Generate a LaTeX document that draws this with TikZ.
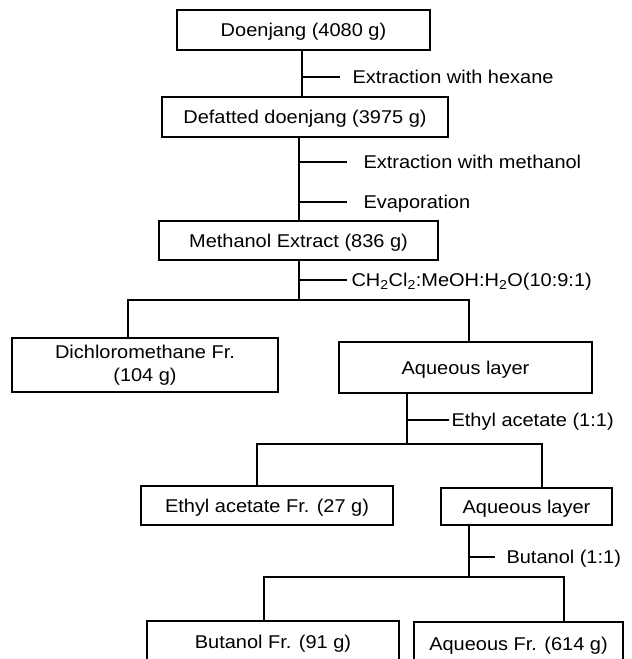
\documentclass[tikz,border=0pt]{standalone}
\usepackage{fontspec}
\setmainfont{Liberation Sans}[FakeStretch=1.08]
\begin{document}
\begin{tikzpicture}[x=1pt,y=-1pt,line width=1.1pt,
  box/.style={draw,inner sep=0pt,align=center,text height=13pt,text depth=0pt},
  lab/.style={anchor=west,inner sep=0pt,text height=13pt,text depth=0pt},
  every node/.style={font=\fontsize{18.5}{23}\selectfont}]
\clip (0,0) rectangle (632,659);
\fill[white] (0,0) rectangle (632,659);
% boxes
\node[box,minimum width=253,minimum height=40] (d1) at (303.5,30) {Doenjang (4080 g)};
\node[box,minimum width=286,minimum height=40] (d2) at (305,117) {Defatted doenjang (3975 g)};
\node[box,minimum width=279,minimum height=39] (d3) at (298.5,240.5) {Methanol Extract (836 g)};
\node[box,minimum width=266,minimum height=54,text height=,text depth=] (d4) at (145,365) {Dichloromethane Fr.\\(104 g)};
\node[box,minimum width=253,minimum height=51] (d5) at (465.5,367.5) {Aqueous layer};
\node[box,minimum width=252,minimum height=39] (d6) at (267,505.5) {Ethyl acetate Fr. (27 g)};
\node[box,minimum width=171,minimum height=37] (d7) at (526.5,506.5) {Aqueous layer};
\node[box,minimum width=252,minimum height=41] (d8) at (273,641.5) {Butanol Fr. (91 g)};
\node[box,minimum width=209,minimum height=44] (d9) at (518.5,644) {Aqueous Fr. (614 g)};
% labels
\node[lab,inner xsep=12pt] (l1) at (340,77) {Extraction with hexane};
\node[lab,inner xsep=16pt] (l2) at (347,162) {Extraction with methanol};
\node[lab,inner xsep=16pt] (l3) at (347,202) {Evaporation};
\node[lab,inner xsep=4pt] (l4) at (347,280) {CH\textsubscript{2}Cl\textsubscript{2}:MeOH:H\textsubscript{2}O(10:9:1)};
\node[lab,inner xsep=2pt] (l5) at (449,420) {Ethyl acetate (1:1)};
\node[lab,inner xsep=11pt] (l6) at (495,557) {Butanol (1:1)};
% junctions
\coordinate (j1) at (302,77);
\coordinate (j2) at (299,162);
\coordinate (j3) at (299,202);
\coordinate (j4) at (299,280);
\coordinate (s1) at (299,300);
\coordinate (a1) at (128,300);
\coordinate (a2) at (469,300);
\coordinate (j5) at (407,420);
\coordinate (s2) at (407,444);
\coordinate (b1) at (257,444);
\coordinate (b2) at (542,444);
\coordinate (j6) at (469,557);
\coordinate (s3) at (469,577);
\coordinate (c1) at (264,577);
\coordinate (c2) at (564,577);
% connectors
\draw (d1.south -| j1) -- (d2.north -| j1);
\draw (j1) -- (l1.west);
\draw (d2.south -| j2) -- (d3.north -| j2);
\draw (j2) -- (l2.west);
\draw (j3) -- (l3.west);
\draw (d3.south -| j4) -- (s1);
\draw (j4) -- (l4.west);
\draw (d4.north -| a1) -- (a1) -- (a2) -- (d5.north -| a2);
\draw (d5.south -| j5) -- (s2);
\draw (j5) -- (l5.west);
\draw (d6.north -| b1) -- (b1) -- (b2) -- (d7.north -| b2);
\draw (d7.south -| j6) -- (s3);
\draw (j6) -- (l6.west);
\draw (d8.north -| c1) -- (c1) -- (c2) -- (d9.north -| c2);
\end{tikzpicture}
\end{document}
